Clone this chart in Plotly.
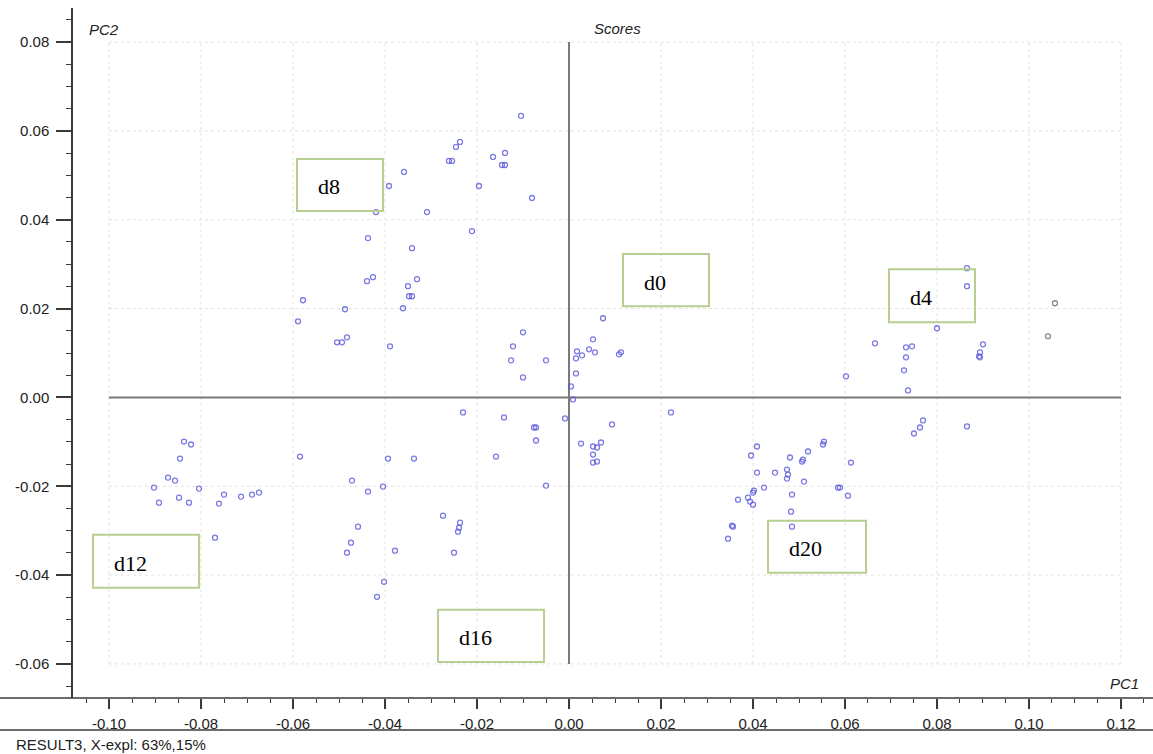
import plotly.graph_objects as go

# ---------------- data ----------------
pc1_blue = [
    -0.02370, -0.02457, -0.02543, -0.02609, -0.01652, -0.01391, -0.01391, -0.01457,
    -0.01043, -0.03587, -0.03913, -0.01957, -0.00804, -0.04196, -0.03087, -0.02109,
    -0.04370, -0.03413, -0.04391, -0.04261, -0.03304, -0.03500, -0.03413, -0.03478,
    -0.05783, -0.04870, -0.03609, -0.05891, -0.05043, -0.04935, -0.04826, -0.03891,
    -0.01000, -0.01217, -0.01261, -0.00500, -0.01000, 0.00739, 0.00522, 0.00435,
    0.00565, 0.00174, 0.00283, 0.00152, 0.01130, 0.01087, 0.00152, 0.00043,
    0.00087, -0.00087, 0.00935, 0.00261, 0.00522, 0.00609, 0.00696, 0.00522,
    0.00609, 0.00522, 0.02217,
    -0.02304, -0.01413, -0.00717, -0.00761, -0.00717, -0.05848, -0.03935, -0.03370,
    -0.01587, -0.04717, -0.04370, -0.04043, -0.00500, -0.02739, -0.02370, -0.02391,
    -0.02413, -0.04587, -0.04739, -0.04826, -0.03783, -0.02500, -0.04022, -0.04174,
    -0.08370, -0.08217, -0.08457, -0.08717, -0.08565, -0.09022, -0.08478, -0.08043,
    -0.08913, -0.08261, -0.07500, -0.07609, -0.07130, -0.06891, -0.06739, -0.07696,
    0.05543, 0.05522, 0.04087, 0.05196, 0.05087, 0.05065, 0.03957, 0.04804,
    0.06130, 0.04739, 0.04761, 0.04739, 0.04478, 0.04087, 0.05109, 0.04239,
    0.05848, 0.05891, 0.06065, 0.04022, 0.04000, 0.03674, 0.03891, 0.03935,
    0.04000, 0.04848, 0.04826, 0.03543, 0.03565, 0.03457, 0.04848,
    0.06022, 0.06652, 0.07326, 0.07457, 0.07326, 0.07283, 0.07370, 0.08000,
    0.08652, 0.08652, 0.09000, 0.08935, 0.08913, 0.08935, 0.07696, 0.07630,
    0.07500, 0.08652,
]
pc2_blue = [
    0.05752, 0.05640, 0.05324, 0.05324, 0.05414, 0.05504, 0.05233, 0.05233,
    0.06339, 0.05076, 0.04760, 0.04760, 0.04489, 0.04173, 0.04173, 0.03745,
    0.03587, 0.03361, 0.02617, 0.02707, 0.02662, 0.02504, 0.02278, 0.02278,
    0.02188, 0.01985, 0.02008, 0.01714, 0.01241, 0.01241, 0.01353, 0.01150,
    0.01466, 0.01150, 0.00835, 0.00835, 0.00451, 0.01782, 0.01308, 0.01083,
    0.01015, 0.01038, 0.00947, 0.00880, 0.01015, 0.00970, 0.00541, 0.00248,
    -0.00045, -0.00474, -0.00609, -0.01038, -0.01105, -0.01128, -0.01015, -0.01286,
    -0.01444, -0.01466, -0.00338,
    -0.00338, -0.00451, -0.00677, -0.00677, -0.00970, -0.01331, -0.01376, -0.01376,
    -0.01331, -0.01872, -0.02120, -0.02008, -0.01985, -0.02662, -0.02820, -0.02933,
    -0.03023, -0.02910, -0.03271, -0.03496, -0.03451, -0.03496, -0.04151, -0.04489,
    -0.00993, -0.01060, -0.01376, -0.01805, -0.01872, -0.02030, -0.02256, -0.02053,
    -0.02369, -0.02369, -0.02188, -0.02391, -0.02233, -0.02188, -0.02143, -0.03158,
    -0.00993, -0.01060, -0.01105, -0.01218, -0.01399, -0.01444, -0.01308, -0.01353,
    -0.01466, -0.01624, -0.01737, -0.01827, -0.01692, -0.01692, -0.01895, -0.02030,
    -0.02030, -0.02030, -0.02211, -0.02098, -0.02143, -0.02301, -0.02256, -0.02346,
    -0.02414, -0.02188, -0.02572, -0.02887, -0.02910, -0.03181, -0.02910,
    0.00474, 0.01218, 0.01128, 0.01150, 0.00902, 0.00609, 0.00158, 0.01557,
    0.02910, 0.02504, 0.01196, 0.01015, 0.00925, 0.00902, -0.00519, -0.00677,
    -0.00812, -0.00654,
]
pc1_gray = [0.10565, 0.10413]
pc2_gray = [0.02120, 0.01376]

x_ticks = [-0.10, -0.08, -0.06, -0.04, -0.02, 0.0, 0.02, 0.04, 0.06, 0.08, 0.10, 0.12]
y_ticks = [-0.06, -0.04, -0.02, 0.0, 0.02, 0.04, 0.06, 0.08]

group_labels = ["d8", "d0", "d4", "d12", "d16", "d20"]

# ---------------- layout constants ----------------
W, H = 1153, 754
ML, MR, MT, MB = 73, 0, 8, 56
X_RANGE = [-0.10783, 0.12696]
Y_RANGE = [-0.06767, 0.08767]
# label boxes (x0, x1, y0, y1) in data units
BOXES = [
    (-0.05913, -0.04043, 0.04196, 0.05369),
    (0.01174, 0.03043, 0.02053, 0.03226),
    (0.06957, 0.08826, 0.01692, 0.02887),
    (-0.10348, -0.08043, -0.04286, -0.03090),
    (-0.02848, -0.00543, -0.05955, -0.04782),
    (0.04326, 0.06457, -0.03948, -0.02775),
]

NARROW = "Liberation Sans Narrow, Arial Narrow, Liberation Sans, Arial, sans-serif"
AXIS_COL = "#3a3a3a"
TXT = 15

fig = go.Figure()
fig.add_trace(go.Scatter(
    x=pc1_blue, y=pc2_blue, mode="markers",
    marker=dict(symbol="circle-open", size=5, color="rgba(90,90,220,0.8)",
                line=dict(width=1.3, color="rgba(90,90,220,0.8)")),
    showlegend=False, hoverinfo="x+y"))
fig.add_trace(go.Scatter(
    x=pc1_gray, y=pc2_gray, mode="markers",
    marker=dict(symbol="circle-open", size=5, color="rgba(110,110,110,0.8)",
                line=dict(width=1.3, color="rgba(110,110,110,0.8)")),
    showlegend=False, hoverinfo="x+y"))

shapes = []
# faint dotted grid within the tick box
for xv in x_ticks:
    shapes.append(dict(type="line", xref="x", yref="y", x0=xv, x1=xv,
                       y0=min(y_ticks), y1=max(y_ticks), layer="below",
                       line=dict(color="#e2e2e2", width=1, dash="dot")))
for yv in y_ticks:
    shapes.append(dict(type="line", xref="x", yref="y", x0=min(x_ticks), x1=max(x_ticks),
                       y0=yv, y1=yv, layer="below",
                       line=dict(color="#e2e2e2", width=1, dash="dot")))
# zero axes
shapes.append(dict(type="line", xref="x", yref="y", x0=min(x_ticks), x1=max(x_ticks),
                   y0=0, y1=0, layer="below", line=dict(color="#7a7a7a", width=2)))
shapes.append(dict(type="line", xref="x", yref="y", x0=0, x1=0,
                   y0=min(y_ticks), y1=max(y_ticks), layer="below",
                   line=dict(color="#7a7a7a", width=2)))
# extended bottom axis line and separator line
pw = W - ML - MR
ph = H - MT - MB
shapes.append(dict(type="line", xref="paper", yref="paper", x0=-ML / pw, x1=1,
                   y0=0, y1=0, line=dict(color=AXIS_COL, width=1.5)))
shapes.append(dict(type="line", xref="paper", yref="paper", x0=-ML / pw, x1=1,
                   y0=-32 / ph, y1=-32 / ph, line=dict(color=AXIS_COL, width=1.5)))
# green label boxes
for (x0, x1, y0, y1) in BOXES:
    shapes.append(dict(type="rect", xref="x", yref="y", x0=x0, x1=x1, y0=y0, y1=y1,
                       line=dict(color="#b7cf90", width=2), fillcolor="rgba(0,0,0,0)"))

annotations = []
for lab, (x0, x1, y0, y1) in zip(group_labels, BOXES):
    annotations.append(dict(x=x0, y=(y0 + y1) / 2, xref="x", yref="y", text=lab,
                            showarrow=False, xanchor="left", yanchor="middle",
                            xshift=19, yshift=-2,
                            font=dict(family="Liberation Serif, Times New Roman, serif",
                                      size=22, color="black")))


def px_to_paper(px, py):
    return (px - ML) / pw, (H - MB - py) / ph


ax, ay = px_to_paper(87, 30)
annotations.append(dict(x=ax, y=ay, xref="paper", yref="paper", text="<i>PC2</i>",
                        showarrow=False, xanchor="left", yanchor="middle",
                        font=dict(family=NARROW, size=TXT, color="#222")))
ax, ay = px_to_paper(592, 28)
annotations.append(dict(x=ax, y=ay, xref="paper", yref="paper", text="<i>Scores</i>",
                        showarrow=False, xanchor="left", yanchor="middle",
                        font=dict(family=NARROW, size=TXT, color="#222")))
ax, ay = px_to_paper(1141, 683)
annotations.append(dict(x=ax, y=ay, xref="paper", yref="paper", text="<i>PC1</i>",
                        showarrow=False, xanchor="right", yanchor="middle",
                        font=dict(family=NARROW, size=TXT, color="#222")))
ax, ay = px_to_paper(14, 745)
annotations.append(dict(x=ax, y=ay, xref="paper", yref="paper",
                        text="RESULT3, X-expl: 63%,15%",
                        showarrow=False, xanchor="left", yanchor="middle",
                        font=dict(family=NARROW, size=TXT, color="#222")))

fig.update_layout(
    width=W, height=H,
    margin=dict(l=ML, r=MR, t=MT, b=MB, pad=0),
    paper_bgcolor="white", plot_bgcolor="white",
    shapes=shapes, annotations=annotations,
    xaxis=dict(range=X_RANGE, showgrid=False, zeroline=False, showline=False,
               tickmode="array", tickvals=x_ticks,
               ticktext=[f"{v:.2f}" for v in x_ticks],
               ticks="outside", ticklen=10, tickwidth=1.5, tickcolor=AXIS_COL,
               ticklabelstandoff=2,
               minor=dict(tickmode="linear", tick0=0, dtick=0.005, ticks="outside",
                          ticklen=4, tickwidth=1, tickcolor=AXIS_COL, showgrid=False),
               tickfont=dict(family=NARROW, size=TXT, color="#222"),
               fixedrange=True),
    yaxis=dict(range=Y_RANGE, showgrid=False, zeroline=False, showline=True,
               linecolor=AXIS_COL, linewidth=1.5,
               tickmode="array", tickvals=y_ticks,
               ticktext=[f"{v:.2f}" for v in y_ticks],
               ticks="outside", ticklen=15, tickwidth=2, tickcolor=AXIS_COL,
               ticklabelstandoff=4,
               minor=dict(tickmode="linear", tick0=0, dtick=0.005, ticks="outside",
                          ticklen=5, tickwidth=1, tickcolor=AXIS_COL, showgrid=False),
               tickfont=dict(family=NARROW, size=TXT, color="#222"),
               fixedrange=True),
)

fig.write_html("out.html")
